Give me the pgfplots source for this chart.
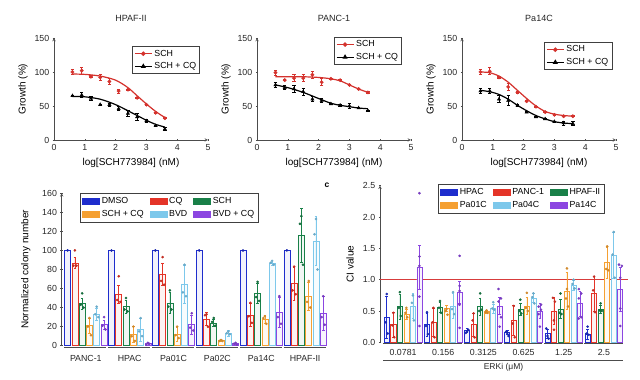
\documentclass[border=0pt]{standalone}
\usepackage{pgfplots}
\pgfplotsset{compat=1.18}
\usepackage{pgfplotstable}
\usepackage{fontspec}
\setmainfont{Liberation Sans}

\definecolor{cblue}{RGB}{30,45,205}
\definecolor{cred}{RGB}{228,52,40}
\definecolor{cgreen}{RGB}{25,128,72}
\definecolor{corange}{RGB}{245,160,50}
\definecolor{clblue}{RGB}{125,200,235}
\definecolor{cpurple}{RGB}{140,70,225}
\definecolor{tred}{RGB}{212,50,45}
\definecolor{ciline}{RGB}{215,60,60}

\pgfplotsset{
  base/.style={scale only axis, clip=false,
    axis line style={-, black!70, line width=0.5pt},
    tick style={black!70, line width=0.5pt},
    tick align=outside, major tick length=2.5pt,
    /pgf/number format/assume math mode=true,
    tick label style={font=\fontsize{8.8}{10}\selectfont, text=black!85},
    label style={font=\fontsize{8.5}{10}\selectfont, text=black!85},
    legend cell align=left},
  top/.style={base, width=154pt, height=102pt,
    xmin=0, xmax=5, ymin=0, ymax=150,
    xtick={0,1,2,3,4,5}, ytick={0,50,100,150},
    axis lines=left,
    xlabel={log[SCH773984] (nM)}, ylabel={Growth (\%)},
    every axis x label/.style={at={(axis description cs:0.5,0)}, anchor=center, yshift=-23pt},
    every axis y label/.style={at={(axis description cs:0,0.5)}, rotate=90, anchor=center, yshift=31pt},
    title style={at={(axis description cs:0.5,1)}, anchor=center, yshift=14pt, font=\fontsize{9}{10}\selectfont, text=black!85},
    legend style={font=\fontsize{8.8}{10}\selectfont, draw=black!75, line width=0.5pt, inner sep=1.5pt, row sep=1pt}},
  fitR/.style={tred, line width=1.2pt, smooth, no markers, forget plot},
  fitK/.style={black, line width=1.2pt, smooth, no markers, forget plot},
  ptR/.style={tred, only marks, mark=*, mark size=1.7pt, forget plot,
    error bars/.cd, y dir=both, y explicit,
    error bar style={tred, line width=0.9pt},
    error mark options={tred, rotate=90, mark size=1.7pt, line width=0.9pt}},
  ptK/.style={black, only marks, mark=triangle*, mark size=1.9pt, forget plot,
    error bars/.cd, y dir=both, y explicit,
    error bar style={black, line width=0.9pt},
    error mark options={black, rotate=90, mark size=1.7pt, line width=0.9pt}},
  bar/.style={ybar, bar shift=0pt, draw=#1, fill=#1!6, line width=0.6pt, forget plot,
    error bars/.cd, y dir=both, y explicit,
    error bar style={#1, line width=0.6pt},
    error mark options={#1, rotate=90, mark size=1.3pt, line width=0.6pt}},
  dots/.style={only marks, mark=*, mark size=1.1pt, forget plot,
    mark options={draw=#1!85!black, fill=#1!85!black}},
}

\pgfplotstableread{
g dm dmE cq cqE sc scE scq scqE bv bvE bvq bvqE
0 100 0 87 6 44 6 21 8 33 6 22 5
1 100 0 54 9 41 7 12 8 17 12 2 2
2 100 0 75 12 45 11 12 7 64 20 22 10
3 100 0 28 7 24 4 6 1 13 3 2 1
4 100 0 32 12 55 11 28 4 86 2 35 16
5 100 0 65 17 116 28 52 15 110 26 34 18
}\colonyBars

\pgfplotstableread{
g hp hpE pn pnE hf hfE pa pa1E p4 p4E p14 p14E
0 0.40 0.33 0.28 0.20 0.57 0.20 0.45 0.08 0.58 0.20 1.20 0.35
1 0.28 0.18 0.32 0.22 0.56 0.08 0.54 0.05 0.58 0.20 0.80 0.17
2 0.19 0.03 0.28 0.18 0.57 0.14 0.49 0.02 0.54 0.07 0.58 0.14
3 0.16 0.03 0.35 0.24 0.53 0.10 0.58 0.14 0.71 0.07 0.50 0.12
4 0.14 0.07 0.50 0.22 0.53 0.15 0.82 0.30 0.91 0.08 0.62 0.20
5 0.13 0.08 0.78 0.28 0.53 0.06 1.27 0.25 1.39 0.37 0.85 0.35
}\ciBars

\begin{document}
\begin{tikzpicture}
\useasboundingbox (0,0) rectangle (640pt,380pt);

% ---------- top panel 1: HPAF-II ----------
\begin{axis}[top, at={(54pt,240pt)}, anchor=south west, title={HPAF-II},
  legend style={at={(axis description cs:0.948,0.92)}, anchor=north east}]
\addlegendimage{tred, line width=1.2pt, mark=*, mark size=1.6pt}
\addlegendentry{SCH}
\addlegendimage{black, line width=1.2pt, mark=triangle*, mark size=1.8pt}
\addlegendentry{SCH + CQ}
\addplot[fitR] coordinates {(0.6,97)(1,96.5)(1.5,94)(2,88)(2.4,77)(2.7,65)(3,53)(3.3,42)(3.6,33)};
\addplot[fitK] coordinates {(0.6,64)(1,63.5)(1.5,60)(2,52)(2.4,43)(2.7,36)(3,29)(3.3,23)(3.6,19)};
\addplot[ptR] coordinates {(0.6,100)+-(0,4) (0.9,102)+-(0,5) (1.2,93)+-(0,1.5) (1.5,92)+-(0,5) (1.8,86)+-(0,5) (2.1,72)+-(0,3) (2.4,74)+-(0,1) (2.7,62)+-(0,1) (3.0,52)+-(0,1) (3.3,40)+-(0,1) (3.6,32)+-(0,1)};
\addplot[ptK] coordinates {(0.6,65)+-(0,1) (0.9,66)+-(0,4) (1.2,61)+-(0,3) (1.5,52)+-(0,1) (1.8,52)+-(0,2) (2.1,46)+-(0,3) (2.4,39)+-(0,4) (2.7,34)+-(0,5) (3.0,28)+-(0,2) (3.3,21)+-(0,1) (3.6,16)+-(0,2)};
\end{axis}

% ---------- top panel 2: PANC-1 ----------
\begin{axis}[top, at={(257pt,240pt)}, anchor=south west, title={PANC-1},
  legend style={at={(axis description cs:0.94,1.01)}, anchor=north east}]
\addlegendimage{tred, line width=1.2pt, mark=*, mark size=1.6pt}
\addlegendentry{SCH}
\addlegendimage{black, line width=1.2pt, mark=triangle*, mark size=1.8pt}
\addlegendentry{SCH + CQ}
\addplot[fitR] coordinates {(0.6,93)(1,93)(1.5,93)(2,92)(2.4,90)(2.7,87)(3,81)(3.3,75)(3.6,70)};
\addplot[fitK] coordinates {(0.6,81)(1,77)(1.5,70)(2,61)(2.4,54)(2.7,51)(3,49)(3.3,47)(3.6,46)};
\addplot[ptR] coordinates {(0.6,99)+-(0,4) (0.9,88)+-(0,1) (1.2,91)+-(0,5) (1.5,91)+-(0,5) (1.8,96)+-(0,5) (2.1,85)+-(0,5) (2.4,90)+-(0,1) (2.7,88)+-(0,1) (3.0,81)+-(0,1) (3.3,75)+-(0,1) (3.6,70)+-(0,1)};
\addplot[ptK] coordinates {(0.6,81)+-(0,4) (0.9,77)+-(0,3) (1.2,75)+-(0,5) (1.5,71)+-(0,5) (1.8,60)+-(0,4) (2.1,58)+-(0,3) (2.4,53)+-(0,1) (2.7,51)+-(0,1) (3.0,50)+-(0,4) (3.3,47)+-(0,1) (3.6,43)+-(0,1)};
\end{axis}

% ---------- top panel 3: Pa14C ----------
\begin{axis}[top, at={(462pt,240pt)}, anchor=south west, title={Pa14C},
  legend style={at={(axis description cs:0.974,0.96)}, anchor=north east}]
\addlegendimage{tred, line width=1.2pt, mark=*, mark size=1.6pt}
\addlegendentry{SCH}
\addlegendimage{black, line width=1.2pt, mark=triangle*, mark size=1.8pt}
\addlegendentry{SCH + CQ}
\addplot[fitR] coordinates {(0.6,100)(0.9,99)(1.2,94)(1.5,85)(1.8,73)(2.1,61)(2.4,50)(2.7,42)(3,38)(3.3,36)(3.6,35)};
\addplot[fitK] coordinates {(0.6,73)(0.9,71)(1.2,67)(1.5,60)(1.8,51)(2.1,43)(2.4,36)(2.7,31)(3,27)(3.3,25)(3.6,24)};
\addplot[ptR] coordinates {(0.6,100)+-(0,4) (0.9,101)+-(0,5) (1.2,92)+-(0,1) (1.5,78)+-(0,5) (1.8,70)+-(0,1) (2.1,57)+-(0,1) (2.4,49)+-(0,1) (2.7,41)+-(0,1) (3.0,37)+-(0,1) (3.3,35)+-(0,1) (3.6,35)+-(0,1)};
\addplot[ptK] coordinates {(0.6,72)+-(0,4) (0.9,72)+-(0,4) (1.2,60)+-(0,5) (1.5,58)+-(0,7) (1.8,51)+-(0,1) (2.1,41)+-(0,1) (2.4,34)+-(0,1) (2.7,31)+-(0,1) (3.0,27)+-(0,1) (3.3,25)+-(0,3) (3.6,24)+-(0,3)};
\end{axis}

% ---------- bottom left: colony number ----------
\begin{axis}[base, at={(61.7pt,34.3pt)}, anchor=south west, width=265.3pt, height=152.4pt,
  xmin=-0.55, xmax=5.5, ymin=0, ymax=160,
  ytick={0,20,40,60,80,100,120,140,160},
  xtick={0,1,2,3,4,5}, xticklabels={PANC-1,HPAC,Pa01C,Pa02C,Pa14C,HPAF-II},
  axis lines=left, x axis line style={draw=none}, xtick style={draw=none},
  xticklabel style={yshift=-4.5pt, font=\fontsize{8.8}{10}\selectfont},
  ylabel={Normalized colony number},
  every axis y label/.style={at={(axis description cs:0,0.5)}, rotate=90, anchor=center, yshift=36pt},
  bar width=0.137,
  legend columns=3,
  legend style={at={(axis description cs:0.069,1)}, anchor=north west,
    font=\fontsize{8.8}{10}\selectfont, draw=black!75, line width=0.5pt, inner sep=2pt,
    /tikz/row sep=1.5pt,
    /tikz/every even column/.append style={column sep=4pt}}]
\addlegendimage{area legend, draw=cblue, fill=cblue}\addlegendentry{DMSO}
\addlegendimage{area legend, draw=cred, fill=cred}\addlegendentry{CQ}
\addlegendimage{area legend, draw=cgreen, fill=cgreen}\addlegendentry{SCH}
\addlegendimage{area legend, draw=corange, fill=corange}\addlegendentry{SCH + CQ}
\addlegendimage{area legend, draw=clblue, fill=clblue}\addlegendentry{BVD}
\addlegendimage{area legend, draw=cpurple, fill=cpurple}\addlegendentry{BVD + CQ}

\addplot[bar=cblue] table[x expr=\thisrow{g}-0.415, y=dm, y error=dmE] {\colonyBars};
\addplot[bar=cred] table[x expr=\thisrow{g}-0.249, y=cq, y error=cqE] {\colonyBars};
\addplot[bar=cgreen] table[x expr=\thisrow{g}-0.083, y=sc, y error=scE] {\colonyBars};
\addplot[bar=corange] table[x expr=\thisrow{g}+0.083, y=scq, y error=scqE] {\colonyBars};
\addplot[bar=clblue] table[x expr=\thisrow{g}+0.249, y=bv, y error=bvE] {\colonyBars};
\addplot[bar=cpurple] table[x expr=\thisrow{g}+0.415, y=bvq, y error=bvqE] {\colonyBars};

\addplot[dots=cblue] table[x expr=\thisrow{g}-0.415+\thisrow{j}, y=y] {
g j y
0 0 100
1 0 100
2 0 100
3 0 100
4 0 100
5 0 100
};
\addplot[dots=cred] table[x expr=\thisrow{g}-0.249+\thisrow{j}, y=y] {
g j y
0 0 100
0 -0.035 84
0 0.035 84
1 0 73
1 -0.035 48
1 0.035 46
2 0 93
2 -0.035 68
2 0.035 64
3 0 33
3 -0.035 32
3 0.035 20
4 0 45
4 -0.035 31
4 0.035 24
5 0 83
5 -0.035 58
5 0.035 54
};
\addplot[dots=cgreen] table[x expr=\thisrow{g}-0.083+\thisrow{j}, y=y] {
g j y
0 0 55
0 -0.035 43
0 0.035 40
1 0 50
1 -0.035 38
1 0.035 36
2 0 58
2 -0.035 41
2 0.035 38
3 0 29
3 -0.035 25
3 0.035 21
4 0 67
4 -0.035 51
4 0.035 47
5 0 136
5 -0.035 128
5 0.035 85
};
\addplot[dots=corange] table[x expr=\thisrow{g}+0.083+\thisrow{j}, y=y] {
g j y
0 0 29
0 -0.035 20
0 0.035 11
1 0 20
1 -0.035 10
1 0.035 5
2 0 20
2 -0.035 11
2 0.035 8
3 0 6
3 -0.035 5
3 0.035 5
4 0 31
4 -0.035 29
4 0.035 23
5 0 68
5 -0.035 46
5 0.035 40
};
\addplot[dots=clblue] table[x expr=\thisrow{g}+0.249+\thisrow{j}, y=y] {
g j y
0 0 41
0 -0.035 33
0 0.035 30
1 0 29
1 -0.035 15
1 0.035 10
2 0 85
2 -0.035 56
2 0.035 52
3 0 15
3 -0.035 13
3 0.035 12
4 0 89
4 -0.035 87
4 0.035 85
5 0 133
5 -0.035 117
5 0.035 80
};
\addplot[dots=cpurple] table[x expr=\thisrow{g}+0.415+\thisrow{j}, y=y] {
g j y
0 0 30
0 -0.035 21
0 0.035 17
1 0 3
1 -0.035 1
1 0.035 2
2 0 34
2 -0.035 19
2 0.035 16
3 0 3
3 -0.035 2
3 0.035 1
4 0 52
4 -0.035 30
4 0.035 23
5 0 52
5 -0.035 30
5 0.035 22
};
\draw[black!70, line width=0.6pt] (axis cs:-0.49,-1.5) -- (axis cs:0.47,-1.5);
\draw[black!70, line width=0.6pt] (axis cs:0.51,-1.5) -- (axis cs:1.47,-1.5);
\draw[black!70, line width=0.6pt] (axis cs:1.51,-1.5) -- (axis cs:2.47,-1.5);
\draw[black!70, line width=0.6pt] (axis cs:2.51,-1.5) -- (axis cs:3.47,-1.5);
\draw[black!70, line width=0.6pt] (axis cs:3.51,-1.5) -- (axis cs:4.47,-1.5);
\draw[black!70, line width=0.6pt] (axis cs:4.51,-1.5) -- (axis cs:5.47,-1.5);
\end{axis}

% ---------- bottom right: CI value ----------
\node[font=\bfseries\fontsize{8.5}{9}\selectfont] at (327pt,195pt) {c};
\begin{axis}[base, at={(380pt,37.7pt)}, anchor=south west, width=248pt, height=156.6pt,
  xmin=-0.575, xmax=5.6, ymin=0, ymax=2.5,
  ytick={0,0.5,1,1.5,2,2.5},
  yticklabel style={/pgf/number format/.cd, fixed, fixed zerofill, precision=1},
  xtick={0,1,2,3,4,5}, xticklabels={0.0781,0.156,0.3125,0.625,1.25,2.5},
  axis lines=left, x axis line style={draw=none}, xtick style={draw=none},
  xticklabel style={yshift=-2.5pt, font=\fontsize{8.8}{10}\selectfont},
  ylabel={CI value},
  every axis y label/.style={at={(axis description cs:0,0.5)}, rotate=90, anchor=center, yshift=30pt},
  bar width=0.125,
  legend columns=3,
  legend style={at={(axis description cs:0.234,1.01)}, anchor=north west,
    font=\fontsize{8.8}{10}\selectfont, draw=black!75, line width=0.5pt, inner sep=2pt,
    /tikz/row sep=1.5pt,
    /tikz/every even column/.append style={column sep=4pt}}]
\addlegendimage{area legend, draw=cblue, fill=cblue}\addlegendentry{HPAC}
\addlegendimage{area legend, draw=cred, fill=cred}\addlegendentry{PANC-1}
\addlegendimage{area legend, draw=cgreen, fill=cgreen}\addlegendentry{HPAF-II}
\addlegendimage{area legend, draw=corange, fill=corange}\addlegendentry{Pa01C}
\addlegendimage{area legend, draw=clblue, fill=clblue}\addlegendentry{Pa04C}
\addlegendimage{area legend, draw=cpurple, fill=cpurple}\addlegendentry{Pa14C}

\addplot[draw=ciline, line width=0.8pt, no markers, forget plot] coordinates {(-0.575,1.0) (5.6,1.0)};

\addplot[bar=cblue] table[x expr=\thisrow{g}-0.406, y=hp, y error=hpE] {\ciBars};
\addplot[bar=cred] table[x expr=\thisrow{g}-0.244, y=pn, y error=pnE] {\ciBars};
\addplot[bar=cgreen] table[x expr=\thisrow{g}-0.081, y=hf, y error=hfE] {\ciBars};
\addplot[bar=corange] table[x expr=\thisrow{g}+0.081, y=pa, y error=pa1E] {\ciBars};
\addplot[bar=clblue] table[x expr=\thisrow{g}+0.244, y=p4, y error=p4E] {\ciBars};
\addplot[bar=cpurple] table[x expr=\thisrow{g}+0.406, y=p14, y error=p14E] {\ciBars};

\addplot[dots=cblue] table[x expr=\thisrow{g}-0.406+\thisrow{j}, y=y] {
g j y
0 0 0.77
0 -0.025 0.32
0 0.025 0.14
1 0 0.48
1 -0.025 0.26
1 0.025 0.13
2 -0.03 0.15
2 0 0.18
2 0.03 0.20
3 -0.03 0.17
3 0 0.15
3 0.03 0.10
4 -0.03 0.22
4 0 0.10
4 0.03 0.06
5 0 0.25
5 -0.03 0.14
5 0.03 0.12
};
\addplot[dots=cred] table[x expr=\thisrow{g}-0.244+\thisrow{j}, y=y] {
g j y
0 0 0.47
0 -0.025 0.27
0 0.025 0.08
1 0 0.55
1 -0.025 0.32
1 0.025 0.08
2 0 0.46
2 -0.025 0.35
2 0.025 0.08
3 0 0.58
3 -0.025 0.30
3 0.025 0.08
4 -0.025 0.71
4 0.025 0.65
4 0 0.35
4 0 0.20
5 0 1.05
5 -0.025 0.83
5 0.025 0.48
};
\addplot[dots=cgreen] table[x expr=\thisrow{g}-0.081+\thisrow{j}, y=y] {
g j y
0 0 0.80
0 -0.025 0.55
0 0.025 0.42
1 0 0.66
1 -0.025 0.55
1 0.025 0.47
2 0 0.78
2 -0.025 0.50
2 0.025 0.52
3 0 0.68
3 -0.025 0.50
3 0.025 0.46
4 0 0.78
4 -0.025 0.47
4 0.025 0.45
5 0 0.62
5 -0.025 0.51
5 0.025 0.50
};
\addplot[dots=corange] table[x expr=\thisrow{g}+0.081+\thisrow{j}, y=y] {
g j y
0 0 0.55
0 -0.025 0.47
0 0.025 0.40
1 0 0.53
1 -0.025 0.50
1 0.025 0.44
2 0 0.51
2 -0.025 0.48
2 0.025 0.47
3 0 0.79
3 -0.025 0.55
3 0.025 0.50
4 0 1.18
4 0 0.85
4 -0.025 0.70
4 0.025 0.57
5 0 1.53
5 -0.025 1.17
5 0.025 1.15
};
\addplot[dots=clblue] table[x expr=\thisrow{g}+0.244+\thisrow{j}, y=y] {
g j y
0 0 0.75
0 -0.025 0.63
0 0.025 0.35
1 0 0.80
1 -0.025 0.53
1 0.025 0.45
2 0 0.64
2 -0.025 0.54
2 0.025 0.52
3 0 0.78
3 -0.025 0.72
3 0.025 0.62
4 0 1.00
4 -0.025 0.93
4 0.025 0.86
5 0 1.76
5 -0.025 1.40
5 0.025 1.03
};
\addplot[dots=cpurple] table[x expr=\thisrow{g}+0.406+\thisrow{j}, y=y] {
g j y
0 0 2.38
0 0 1.37
0 0 1.22
0 0 0.73
0 0 0.26
1 0 1.38
1 0 0.90
1 0 0.82
1 0 0.60
1 0 0.23
2 -0.03 0.85
2 0.03 0.70
2 -0.03 0.65
2 0.03 0.40
2 0 0.25
3 0.03 0.60
3 -0.03 0.57
3 0.03 0.52
3 -0.03 0.45
3 0 0.25
4 -0.03 0.85
4 0.03 0.78
4 -0.03 0.70
4 0.03 0.40
4 -0.03 0.38
5 -0.03 1.24
5 0.04 1.22
5 0 1.03
5 0 0.54
5 0 0.26
};
\draw[black!70, line width=0.6pt] (axis cs:-0.49,-0.015) -- (axis cs:0.47,-0.015);
\draw[black!70, line width=0.6pt] (axis cs:0.51,-0.015) -- (axis cs:1.47,-0.015);
\draw[black!70, line width=0.6pt] (axis cs:1.51,-0.015) -- (axis cs:2.47,-0.015);
\draw[black!70, line width=0.6pt] (axis cs:2.51,-0.015) -- (axis cs:3.47,-0.015);
\draw[black!70, line width=0.6pt] (axis cs:3.51,-0.015) -- (axis cs:4.47,-0.015);
\draw[black!70, line width=0.6pt] (axis cs:4.51,-0.015) -- (axis cs:5.47,-0.015);
\draw[black!70, line width=0.6pt] (axis cs:-0.5,-0.283) -- (axis cs:5.475,-0.283);
\node[font=\fontsize{8.5}{10}\selectfont, text=black!85] at (axis cs:2.5,-0.395) {ERKi (μM)};
\end{axis}
\end{tikzpicture}
\end{document}
